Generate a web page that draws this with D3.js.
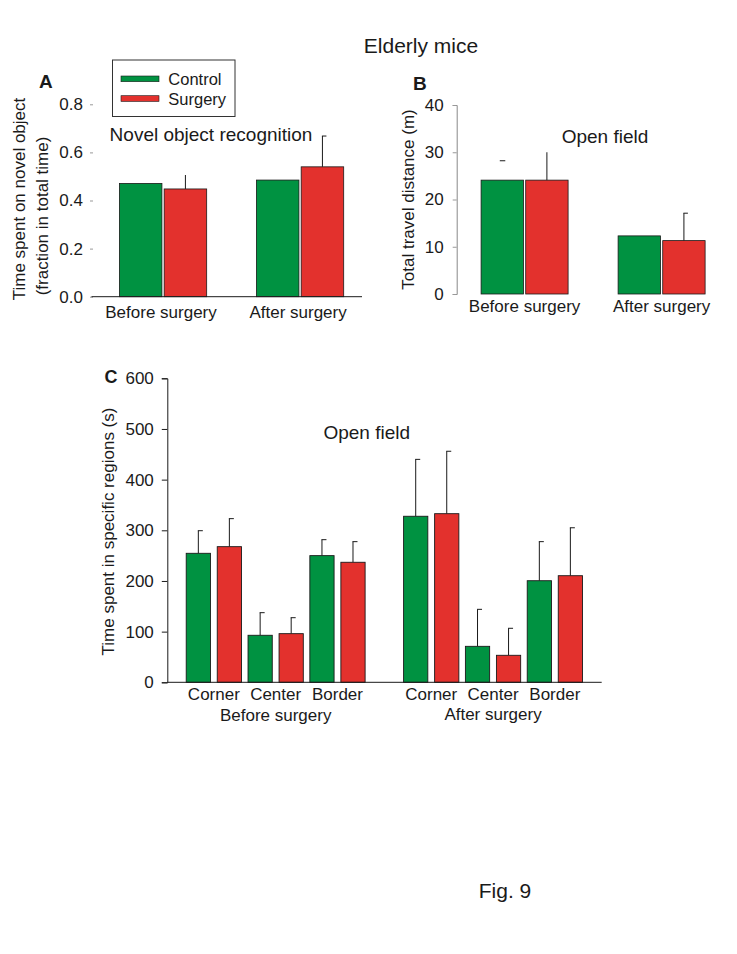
<!DOCTYPE html>
<html><head><meta charset="utf-8">
<script src="https://cdn.jsdelivr.net/npm/d3@7"></script>
<style>body{margin:0;background:#fff}svg text{font-family:"Liberation Sans",Arial,sans-serif;fill:#1a1a1a}</style>
</head><body><svg id="c" width="737" height="954"></svg>
<script>
// ---------- data ----------
const series = ["Control", "Surgery"];
const phases = ["Before surgery", "After surgery"];
const regions = ["Corner", "Center", "Border"];

// Panel A: novel object recognition (fraction of total time)
const aControl = [0.471, 0.485];
const aSurgery = [0.448, 0.540];
const aControlErr = [null, null];
const aSurgeryErr = [0.058, 0.128];
const aTicks = [0.0, 0.2, 0.4, 0.6, 0.8];

// Panel B: open field total travel distance (m)
const bControl = [24.1, 12.3];
const bSurgery = [24.1, 11.3];
const bControlErr = [4.1, null];
const bSurgeryErr = [5.9, 5.8];
const bTicks = [0, 10, 20, 30, 40];

// Panel C: time spent in specific regions (s)
const cControlBefore = [254.6, 92.8, 250.0];
const cControlAfter = [327.7, 71.0, 200.5];
const cSurgeryBefore = [267.7, 96.0, 236.9];
const cSurgeryAfter = [332.8, 53.3, 210.4];
const cControlBeforeErr = [44.6, 44.6, 31.5];
const cControlAfterErr = [112.3, 73.0, 77.1];
const cSurgeryBeforeErr = [55.3, 31.5, 40.7];
const cSurgeryAfterErr = [123.2, 53.3, 94.6];
const cTicks = [0, 100, 200, 300, 400, 500, 600];

const colors = {Control: "#009241", Surgery: "#e3312d"};
const svg = d3.select("#c");
const FS = "17px";

function errBar(g, x, y0, y1, capW, cap) {
  g.append("line").attr("x1", x).attr("x2", x).attr("y1", y0).attr("y2", y1)
    .attr("stroke", "#1a1a1a").attr("stroke-width", 1);
  if (cap) g.append("line").attr("x1", x - 0.5).attr("x2", x + capW).attr("y1", y1).attr("y2", y1)
    .attr("stroke", "#1a1a1a").attr("stroke-width", 1);
}

// ---------- titles ----------
svg.append("text").attr("x", 421).attr("y", 52.5).attr("text-anchor", "middle")
  .style("font-size", "21px").text("Elderly mice");
svg.append("text").attr("x", 505).attr("y", 898).attr("text-anchor", "middle")
  .style("font-size", "21px").text("Fig. 9");

// ---------- Panel A ----------
{
  const y = d3.scaleLinear().domain([0, 0.8]).range([296.7, 104.3]);
  const x0 = d3.scaleBand().domain(phases).range([92, 371.1]).paddingInner(0.363).paddingOuter(0.2);
  const x1 = d3.scaleBand().domain(series).range([0, x0.bandwidth()]).paddingInner(0.05);
  const g = svg.append("g");
  const ax = g.append("g").attr("transform", "translate(93,0)")
    .call(d3.axisLeft(y).tickValues(aTicks).tickFormat(d3.format(".1f")).tickSize(3).tickPadding(7));
  ax.select(".domain").remove();
  ax.selectAll(".tick line").attr("stroke", "#999");
  ax.selectAll("text").style("font-size", FS).attr("fill", "#1a1a1a");
  const vals = {Control: aControl, Surgery: aSurgery};
  const errs = {Control: aControlErr, Surgery: aSurgeryErr};
  phases.forEach((p, i) => {
    series.forEach(s => {
      const xb = x0(p) + x1(s);
      const v = vals[s][i];
      g.append("rect").attr("x", xb).attr("y", y(v)).attr("width", x1.bandwidth())
        .attr("height", y(0) - y(v)).attr("fill", colors[s]).attr("stroke", "#1a1a1a").attr("stroke-width", 0.8);
      const e = errs[s][i];
      if (e != null) errBar(g, xb + x1.bandwidth() / 2, y(v), y(v + e), 4, i === 1);
    });
    g.append("text").attr("x", x0(p) + x0.bandwidth() / 2 - 2).attr("y", 318).attr("text-anchor", "middle")
      .style("font-size", FS).text(p);
  });
  g.append("line").attr("x1", 91.5).attr("x2", 362).attr("y1", y(0)).attr("y2", y(0)).attr("stroke", "#1a1a1a");
  g.append("text").attr("x", 211).attr("y", 140.5).attr("text-anchor", "middle")
    .style("font-size", "19px").text("Novel object recognition");
  g.append("text").attr("transform", "translate(19,199) rotate(-90)").attr("text-anchor", "middle")
    .attr("dominant-baseline", "central").style("font-size", FS).text("Time spent on novel object");
  g.append("text").attr("transform", "translate(42,216) rotate(-90)").attr("text-anchor", "middle")
    .attr("dominant-baseline", "central").style("font-size", FS).text("(fraction in total time)");
  g.append("text").attr("x", 39).attr("y", 88.3).style("font-size", "19px").style("font-weight", "bold").text("A");
  // legend
  const lg = g.append("g");
  lg.append("rect").attr("x", 112.5).attr("y", 60).attr("width", 122.5).attr("height", 56.5)
    .attr("fill", "#fff").attr("stroke", "#333").attr("stroke-width", 1);
  series.forEach((s, i) => {
    lg.append("rect").attr("x", 121).attr("y", 76 + i * 19.7).attr("width", 38).attr("height", 5.7)
      .attr("fill", colors[s]).attr("stroke", "#1a1a1a").attr("stroke-width", 0.6);
    lg.append("text").attr("x", 168.3).attr("y", 84.5 + i * 20).style("font-size", "16.5px").text(s);
  });
}

// ---------- Panel B ----------
{
  const y = d3.scaleLinear().domain([0, 40]).range([294, 105]);
  const x0 = d3.scaleBand().domain(phases).range([456.7, 729.5]).paddingInner(0.365).paddingOuter(0.178);
  const x1 = d3.scaleBand().domain(series).range([0, x0.bandwidth()]).paddingInner(0.05);
  const g = svg.append("g");
  const ax = g.append("g").attr("transform", "translate(456.7,0)")
    .call(d3.axisLeft(y).tickValues(bTicks).tickFormat(d3.format("d")).tickSize(4).tickPadding(9));
  ax.select(".domain").attr("stroke", "#888");
  ax.selectAll(".tick line").attr("stroke", "#999");
  ax.selectAll("text").style("font-size", FS).attr("fill", "#1a1a1a");
  const vals = {Control: bControl, Surgery: bSurgery};
  const errs = {Control: bControlErr, Surgery: bSurgeryErr};
  phases.forEach((p, i) => {
    series.forEach(s => {
      const xb = x0(p) + x1(s);
      const v = vals[s][i];
      g.append("rect").attr("x", xb).attr("y", y(v)).attr("width", x1.bandwidth())
        .attr("height", y(0) - y(v)).attr("fill", colors[s]).attr("stroke", "#1a1a1a").attr("stroke-width", 0.8);
      const e = errs[s][i];
      if (e != null) {
        const cx = xb + x1.bandwidth() / 2;
        if (s === "Control") {
          // only the cap of this error bar is visible
          g.append("line").attr("x1", cx - 2.5).attr("x2", cx + 3).attr("y1", y(v + e)).attr("y2", y(v + e))
            .attr("stroke", "#1a1a1a");
        } else errBar(g, cx, y(v), y(v + e), 4, i === 1);
      }
    });
    g.append("text").attr("x", x0(p) + x0.bandwidth() / 2).attr("y", 311.7).attr("text-anchor", "middle")
      .style("font-size", FS).text(p);
  });
  g.append("text").attr("x", 605).attr("y", 142.7).attr("text-anchor", "middle")
    .style("font-size", "19px").text("Open field");
  g.append("text").attr("transform", "translate(408.5,199.5) rotate(-90)").attr("text-anchor", "middle")
    .attr("dominant-baseline", "central").style("font-size", FS).text("Total travel distance (m)");
  g.append("text").attr("x", 413).attr("y", 90).style("font-size", "19px").style("font-weight", "bold").text("B");
}

// ---------- Panel C ----------
{
  const y = d3.scaleLinear().domain([0, 600]).range([682.3, 378.3]);
  const x0 = d3.scaleBand().domain(phases).range([167.3, 601.4]).paddingInner(0.177).paddingOuter(0.087);
  const xr = d3.scaleBand().domain(regions).range([0, x0.bandwidth()]).paddingInner(0.106);
  const xs = d3.scaleBand().domain(series).range([0, xr.bandwidth()]).paddingInner(0.219);
  const g = svg.append("g");
  const ax = g.append("g").attr("transform", "translate(167.3,0)")
    .call(d3.axisLeft(y).tickValues(cTicks).tickFormat(d3.format("d")).tickSize(5.5).tickPadding(8));
  ax.select(".domain").attr("stroke", "#1a1a1a");
  ax.selectAll(".tick line").attr("stroke", "#1a1a1a");
  ax.selectAll("text").style("font-size", FS).attr("fill", "#1a1a1a");
  const vals = {
    Control: {"Before surgery": cControlBefore, "After surgery": cControlAfter},
    Surgery: {"Before surgery": cSurgeryBefore, "After surgery": cSurgeryAfter}
  };
  const errs = {
    Control: {"Before surgery": cControlBeforeErr, "After surgery": cControlAfterErr},
    Surgery: {"Before surgery": cSurgeryBeforeErr, "After surgery": cSurgeryAfterErr}
  };
  phases.forEach((p, pi) => {
    regions.forEach((r, ri) => {
      series.forEach(s => {
        const xb = x0(p) + xr(r) + xs(s);
        const v = vals[s][p][ri];
        const e = errs[s][p][ri];
        errBar(g, xb + xs.bandwidth() / 2, y(v), y(v + e), 4.5, true);
        g.append("rect").attr("x", xb).attr("y", y(v)).attr("width", xs.bandwidth())
          .attr("height", y(0) - y(v)).attr("fill", colors[s]).attr("stroke", "#1a1a1a").attr("stroke-width", 0.9);
      });
      g.append("text").attr("x", x0(p) + xr(r) + xr.bandwidth() / 2).attr("y", 700).attr("text-anchor", "middle")
        .style("font-size", FS).text(r);
    });
    g.append("text").attr("x", x0(p) + x0.bandwidth() / 2).attr("y", pi === 0 ? 721 : 719.5).attr("text-anchor", "middle")
      .style("font-size", FS).text(p);
  });
  g.append("line").attr("x1", 167.3).attr("x2", 601.7).attr("y1", y(0)).attr("y2", y(0)).attr("stroke", "#1a1a1a");
  g.append("text").attr("x", 366.7).attr("y", 439.3).attr("text-anchor", "middle")
    .style("font-size", "19px").text("Open field");
  g.append("text").attr("transform", "translate(108,531.5) rotate(-90)").attr("text-anchor", "middle")
    .attr("dominant-baseline", "central").style("font-size", FS).text("Time spent in specific regions (s)");
  g.append("text").attr("x", 104.5).attr("y", 383).style("font-size", "18px").style("font-weight", "bold").text("C");
}
</script></body></html>
